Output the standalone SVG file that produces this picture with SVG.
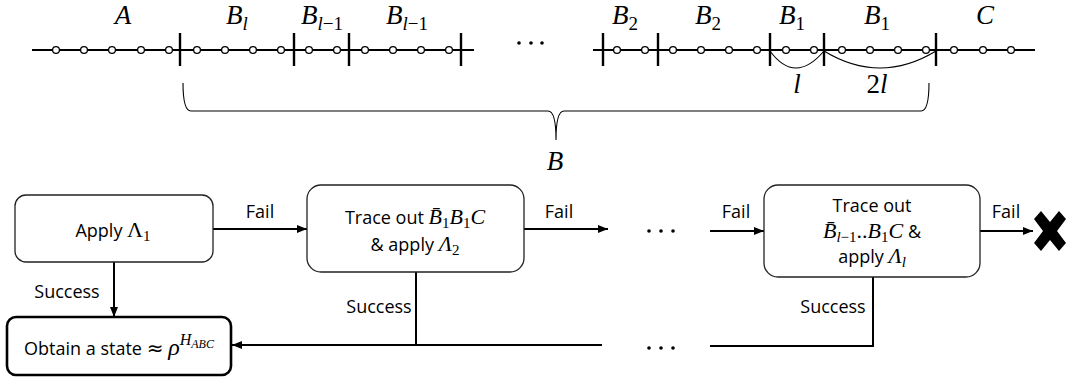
<svg xmlns="http://www.w3.org/2000/svg" width="1066" height="383" viewBox="0 0 1066 383">
<defs>
<style>
.m{font-family:"Liberation Serif","DejaVu Serif",serif;font-style:italic;fill:#000}
.u{font-style:normal}
.t{font-family:"Open Sans","Noto Sans",sans-serif;font-size:18px;fill:#000}
.chain{stroke:#000;stroke-width:2;fill:none}
.tick{stroke:#000;stroke-width:2.4}
.site{fill:#fff;stroke:#000;stroke-width:1.3}
.box{fill:#fff;stroke:#222;stroke-width:1.3}
.box4{fill:#fff;stroke:#000;stroke-width:2.6}
.ln{stroke:#000;stroke-width:2;fill:none}
.thin{stroke:#000;stroke-width:1.1;fill:none}
</style>
<marker id="ah" markerWidth="10" markerHeight="8" refX="10" refY="4" orient="auto" markerUnits="userSpaceOnUse">
<path d="M0,0 L10,4 L0,8 Z" fill="#000"/>
</marker>
</defs>
<rect width="1066" height="383" fill="#fff"/>

<g id="chain">
<line class="chain" x1="32" y1="50" x2="474" y2="50"/>
<line class="chain" x1="593" y1="50" x2="1035" y2="50"/>
<g class="tick">
<line x1="180" y1="33" x2="180" y2="66"/>
<line x1="294" y1="33" x2="294" y2="66"/>
<line x1="349" y1="33" x2="349" y2="66"/>
<line x1="461" y1="33" x2="461" y2="66"/>
<line x1="603" y1="33" x2="603" y2="66"/>
<line x1="658" y1="33" x2="658" y2="66"/>
<line x1="770" y1="33" x2="770" y2="66"/>
<line x1="824" y1="33" x2="824" y2="66"/>
<line x1="936" y1="33" x2="936" y2="66"/>
</g>
<g class="site">
<circle cx="56" cy="50" r="3.4"/><circle cx="84" cy="50" r="3.4"/><circle cx="112" cy="50" r="3.4"/><circle cx="141" cy="50" r="3.4"/><circle cx="169" cy="50" r="3.4"/>
<circle cx="197" cy="50" r="3.4"/><circle cx="225" cy="50" r="3.4"/><circle cx="253" cy="50" r="3.4"/><circle cx="281" cy="50" r="3.4"/>
<circle cx="309" cy="50" r="3.4"/><circle cx="337" cy="50" r="3.4"/>
<circle cx="365" cy="50" r="3.4"/><circle cx="393" cy="50" r="3.4"/><circle cx="421" cy="50" r="3.4"/><circle cx="449" cy="50" r="3.4"/>
<circle cx="617" cy="50" r="3.4"/><circle cx="645" cy="50" r="3.4"/>
<circle cx="673" cy="50" r="3.4"/><circle cx="701" cy="50" r="3.4"/><circle cx="729" cy="50" r="3.4"/><circle cx="757" cy="50" r="3.4"/>
<circle cx="786" cy="50" r="3.4"/><circle cx="814" cy="50" r="3.4"/>
<circle cx="842" cy="50" r="3.4"/><circle cx="870" cy="50" r="3.4"/><circle cx="898" cy="50" r="3.4"/><circle cx="926" cy="50" r="3.4"/>
<circle cx="954" cy="50" r="3.4"/><circle cx="983" cy="50" r="3.4"/><circle cx="1011" cy="50" r="3.4"/>
</g>
<g fill="#000">
<circle cx="519" cy="43" r="1.8"/><circle cx="531" cy="43" r="1.8"/><circle cx="542" cy="43" r="1.8"/>
</g>
<path class="thin" d="M770,51 Q795,85 824,51"/>
<path class="thin" d="M824,51 Q880,85 936,51"/>
<g class="m" font-size="27" text-anchor="middle">
<text x="123" y="24">A</text>
<text x="237" y="24">B<tspan font-size="19" dy="6">l</tspan></text>
<text x="322" y="24">B<tspan font-size="19" dy="6">l</tspan><tspan class="u" font-size="19">−1</tspan></text>
<text x="407" y="24">B<tspan font-size="19" dy="6">l</tspan><tspan class="u" font-size="19">−1</tspan></text>
<text x="625" y="24">B<tspan class="u" font-size="19" dy="6">2</tspan></text>
<text x="708" y="24">B<tspan class="u" font-size="19" dy="6">2</tspan></text>
<text x="792" y="24">B<tspan class="u" font-size="19" dy="6">1</tspan></text>
<text x="877" y="24">B<tspan class="u" font-size="19" dy="6">1</tspan></text>
<text x="985" y="24">C</text>
<text x="797" y="93">l</text>
<text x="877" y="93"><tspan class="u">2</tspan>l</text>
<text x="555" y="170">B</text>
</g>
<path class="thin" stroke="#333" d="M183,83 Q183,111 191,111 L548,111 Q556,111 556,140 Q556,111 564,111 L921,111 Q929,111 929,83"/>
</g>

<g id="connectors">
<line class="ln" x1="213" y1="229" x2="307" y2="229" marker-end="url(#ah)"/>
<line class="ln" x1="114" y1="262" x2="114" y2="317" marker-end="url(#ah)"/>
<line class="ln" x1="524" y1="229" x2="608" y2="229" marker-end="url(#ah)"/>
<polyline class="ln" points="416,272 416,345"/>
<line class="ln" x1="602" y1="345" x2="232" y2="345" marker-end="url(#ah)"/>
<line class="ln" x1="710" y1="231" x2="764" y2="231" marker-end="url(#ah)"/>
<polyline class="ln" points="873,277 873,346 710,346"/>
<line class="ln" x1="980" y1="231" x2="1033" y2="231" marker-end="url(#ah)"/>
<g fill="#000">
<circle cx="649" cy="231" r="1.8"/><circle cx="661" cy="231" r="1.8"/><circle cx="673" cy="231" r="1.8"/>
<circle cx="649" cy="348" r="1.8"/><circle cx="661" cy="348" r="1.8"/><circle cx="673" cy="348" r="1.8"/>
</g>
<g class="t" text-anchor="middle">
<text x="260" y="218">Fail</text>
<text x="559" y="218">Fail</text>
<text x="736" y="218">Fail</text>
<text x="1006" y="218">Fail</text>
<text x="67" y="298">Success</text>
<text x="379" y="313">Success</text>
<text x="833" y="313">Success</text>
</g>
</g>

<g id="box1">
<rect class="box" x="15" y="195" width="198" height="67" rx="11"/>
<text class="t" x="113" y="237" text-anchor="middle">Apply <tspan font-family="Liberation Serif,serif" font-size="22">Λ</tspan><tspan font-family="Liberation Serif,serif" font-size="15" dy="4">1</tspan></text>
</g>

<g id="box2">
<rect class="box" x="307" y="185" width="217" height="87" rx="14"/>
<text class="t" x="415" y="224" text-anchor="middle">Trace out <tspan class="m" font-size="22">B̄</tspan><tspan class="m u" font-size="15" dy="4">1</tspan><tspan class="m" font-size="22" dy="-4">B</tspan><tspan class="m u" font-size="15" dy="4">1</tspan><tspan class="m" font-size="22" dy="-4">C</tspan></text>
<text class="t" x="415" y="251" text-anchor="middle">&amp; apply <tspan class="m" font-size="22">Λ</tspan><tspan class="m u" font-size="15" dy="4">2</tspan></text>
</g>

<g id="box3">
<rect class="box" x="764" y="185" width="216" height="92" rx="14"/>
<text class="t" x="872" y="212" text-anchor="middle">Trace out</text>
<text class="t" x="872" y="238" text-anchor="middle"><tspan class="m" font-size="22">B̄</tspan><tspan class="m" font-size="15" dy="4">l</tspan><tspan class="m u" font-size="15">−1</tspan><tspan class="m u" font-size="22" dy="-4">..</tspan><tspan class="m" font-size="22">B</tspan><tspan class="m u" font-size="15" dy="4">1</tspan><tspan class="m" font-size="22" dy="-4">C</tspan> &amp;</text>
<text class="t" x="872" y="263" text-anchor="middle">apply <tspan class="m" font-size="22">Λ</tspan><tspan class="m" font-size="15" dy="4">l</tspan></text>
</g>

<g id="box4">
<rect class="box4" x="7" y="317" width="224" height="58" rx="9"/>
<text class="t" x="119" y="355" text-anchor="middle">Obtain a state <tspan font-family="DejaVu Sans,sans-serif" font-size="20">≈</tspan> <tspan class="m" font-size="24">ρ</tspan><tspan class="m" font-size="16" dy="-10">H</tspan><tspan class="m" font-size="12" dy="3">ABC</tspan></text>
</g>

<g id="fail-end">
<path fill="#000" d="M1034,219 L1041,211 L1050,222 L1059,211 L1066,219 L1057,231 L1066,243 L1059,251 L1050,240 L1041,251 L1034,243 L1043,231 Z"/>
</g>
</svg>
